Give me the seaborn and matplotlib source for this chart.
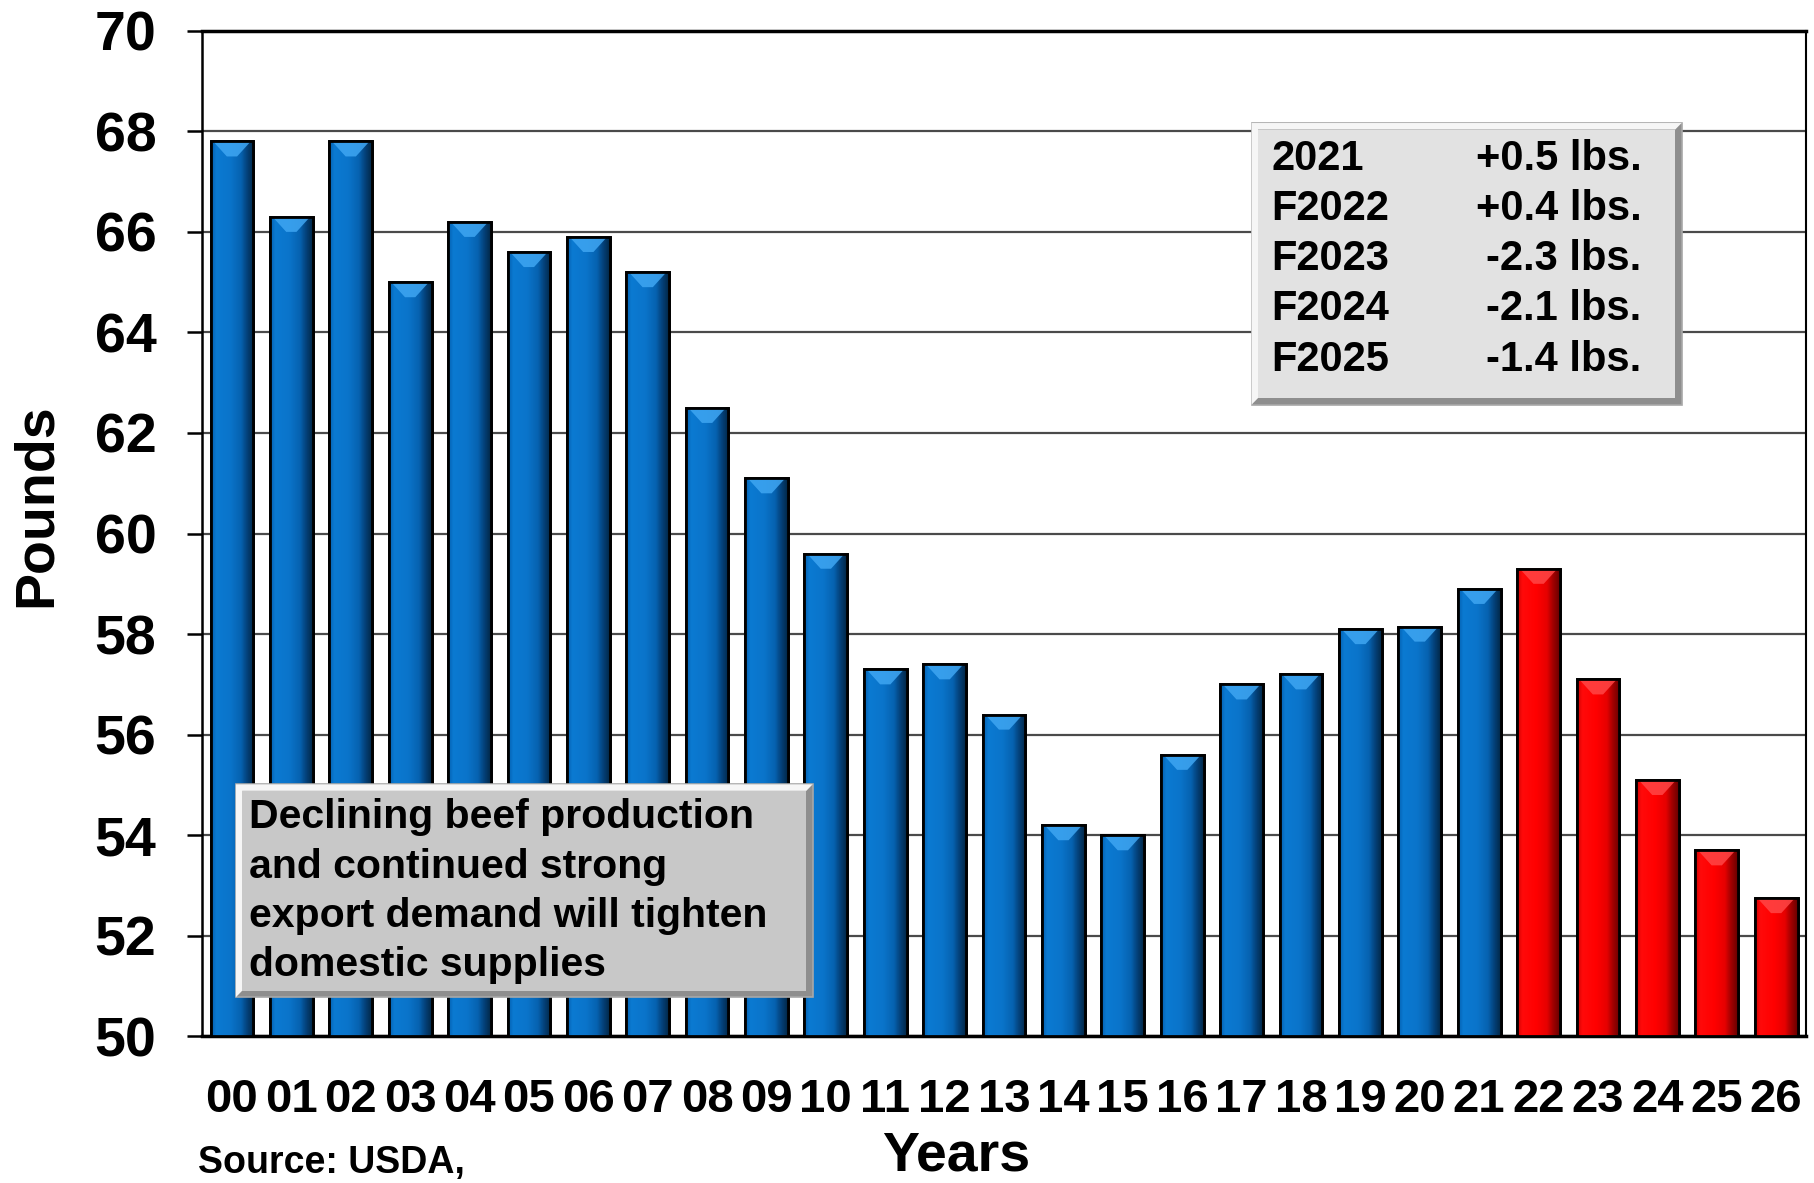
import numpy as np
import pandas as pd
import seaborn as sns
import matplotlib.pyplot as plt
from matplotlib.colors import LinearSegmentedColormap
from matplotlib.patches import Rectangle, Polygon

# Per capita values (pounds)
years = ["00", "01", "02", "03", "04", "05", "06", "07", "08", "09", "10", "11", "12", "13",
         "14", "15", "16", "17", "18", "19", "20", "21", "22", "23", "24", "25", "26"]
pounds = [67.8, 66.3, 67.8, 65.0, 66.2, 65.6, 65.9, 65.2, 62.5, 61.1, 59.6, 57.3, 57.4, 56.4,
          54.2, 54.0, 55.6, 57.0, 57.2, 58.1, 58.15, 58.9, 59.3, 57.1, 55.1, 53.7, 52.75]
kind = ["actual"] * 22 + ["forecast"] * 5

box_years = ["2021", "F2022", "F2023", "F2024", "F2025"]
box_changes = ["+0.5 lbs.", "+0.4 lbs.", "-2.3 lbs.", "-2.1 lbs.", "-1.4 lbs."]
note_lines = ["Declining beef production", "and continued strong",
              "export demand will tighten", "domestic supplies"]

sns.set_theme(style="white")
plt.rcParams["font.family"] = ["Liberation Sans", "DejaVu Sans"]
plt.rcParams["font.weight"] = "bold"
plt.rcParams["text.color"] = "black"
plt.rcParams["axes.labelcolor"] = "black"
plt.rcParams["xtick.color"] = "black"
plt.rcParams["ytick.color"] = "black"

df = pd.DataFrame({"year": years, "pounds": pounds, "kind": kind})

fig = plt.figure(figsize=(18.14, 11.83), dpi=100)
ax = fig.add_axes([0.1115, 0.124, 0.884, 0.85])

sns.barplot(df, x="year", y="pounds", hue="kind", palette={"actual": "#0870C8", "forecast": "#FF0000"},
            dodge=False, width=0.72, edgecolor="black", linewidth=2, legend=False, ax=ax, zorder=3)

# cylinder-ish shading on each bar, plus the light bevel at the top
cmaps = {
    "actual": LinearSegmentedColormap.from_list("b", [(0, "#0460B0"), (0.12, "#0B7AD2"), (0.45, "#0A74CA"),
                                                     (0.7, "#0662B0"), (0.85, "#04417A"), (1, "#022848")]),
    "forecast": LinearSegmentedColormap.from_list("r", [(0, "#D00000"), (0.12, "#FF0A0A"), (0.45, "#FF0000"),
                                                       (0.7, "#E60000"), (0.85, "#A00000"), (1, "#6A0000")]),
}
tops = {"actual": "#3FA6F2", "forecast": "#FF4646"}
grad = np.linspace(0, 1, 64).reshape(1, -1)
for p, k in zip(ax.patches, kind):
    x0, w, h = p.get_x(), p.get_width(), p.get_height()
    im = ax.imshow(grad, cmap=cmaps[k], aspect="auto", extent=[x0, x0 + w, 50, h], zorder=3.5)
    im.set_clip_path(p)
    d = 0.3
    ax.add_patch(Polygon([(x0 + 0.06 * w, h), (x0 + 0.94 * w, h), (x0 + 0.62 * w, h - d), (x0 + 0.38 * w, h - d)],
                         closed=True, facecolor=tops[k], edgecolor="none", alpha=0.85, zorder=3.8))
    ax.add_patch(Rectangle((x0, 50), w, h - 50, fill=False, edgecolor="black", linewidth=2, zorder=4))

ax.set_xlim(-0.5, 26.5)
ax.set_ylim(50, 70)
ax.set_yticks(range(50, 71, 2))
ax.yaxis.grid(True, color="#4A4A4A", linewidth=1.6, zorder=1)
ax.set_axisbelow(True)

for s in ["left", "bottom", "top", "right"]:
    ax.spines[s].set_color("black")
ax.spines["top"].set_linewidth(2.5)
ax.spines["left"].set_linewidth(1.8)
ax.spines["bottom"].set_linewidth(2.5)
ax.spines["right"].set_linewidth(1.5)

ax.set_xticks(np.arange(-0.5, 27, 1), minor=True)
ax.tick_params(axis="x", which="major", length=0, pad=30, labelsize=34)
ax.tick_params(axis="x", which="minor", length=11, width=1.5, color="black", direction="out")
ax.tick_params(axis="y", which="major", length=11, width=1.8, color="black", direction="out",
               pad=22, labelsize=40, left=True)
for lab in ax.get_xticklabels() + ax.get_yticklabels():
    lab.set_fontweight("bold")

ax.set_xlabel("")
ax.set_ylabel("")
fig.text(0.0205, 0.573, "Pounds", fontsize=40, fontweight="bold", rotation=90, ha="center", va="center")
fig.text(0.527, 0.022, "Years", fontsize=40, fontweight="bold", ha="center", va="center")
fig.text(0.109, 0.017, "Source: USDA,", fontsize=27, fontweight="bold", ha="left", va="center")


def bevel_box(x0, y0, x1, y1, face):
    bx, by = 0.0035, 0.0055
    tf = fig.transFigure
    fig.add_artist(Rectangle((x0, y0), x1 - x0, y1 - y0, transform=tf,
                             facecolor="#8E8E8E", edgecolor="#A8A8A8", linewidth=1.2, zorder=5))
    fig.add_artist(Polygon([(x0, y1), (x1, y1), (x1 - bx, y1 - by), (x0 + bx, y1 - by), (x0 + bx, y0 + by), (x0, y0)],
                           closed=True, transform=tf, facecolor="#F6F6F6", edgecolor="none", zorder=5))
    fig.add_artist(Rectangle((x0 + bx, y0 + by), x1 - x0 - 2 * bx, y1 - y0 - 2 * by,
                             transform=tf, facecolor=face, edgecolor="none", zorder=5))


bevel_box(0.690, 0.658, 0.927, 0.896, "#E2E2E2")
for i, (yr, ch) in enumerate(zip(box_years, box_changes)):
    y = 0.866 - i * 0.0425
    fig.text(0.701, y, yr, fontsize=30, fontweight="bold", ha="left", va="center", zorder=6)
    fig.text(0.905, y, ch, fontsize=30, fontweight="bold", ha="right", va="center", zorder=6)

bevel_box(0.130, 0.157, 0.448, 0.337, "#C8C8C8")
for i, line in enumerate(note_lines):
    fig.text(0.137, 0.309 - i * 0.0415, line, fontsize=29.5, fontweight="bold", ha="left", va="center", zorder=6)

fig.savefig("out.png", dpi=100)
